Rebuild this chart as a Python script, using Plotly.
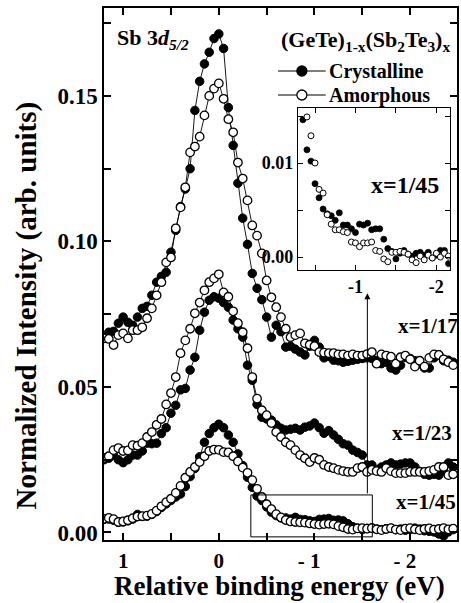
import plotly.graph_objects as go

# ---------------- data ----------------
ENERGY = [1.20, 1.15, 1.10, 1.05, 1.00, 0.95, 0.90, 0.85, 0.80, 0.75,
          0.70, 0.65, 0.60, 0.55, 0.50, 0.45, 0.40, 0.35, 0.30, 0.25,
          0.20, 0.15, 0.10, 0.05, 0.00, -0.05, -0.10, -0.15, -0.20, -0.25,
          -0.30, -0.35, -0.40, -0.45, -0.50, -0.55, -0.60, -0.65, -0.70, -0.75,
          -0.80, -0.85, -0.90, -0.95, -1.00, -1.05, -1.10, -1.15, -1.20, -1.25,
          -1.30, -1.35, -1.40, -1.45, -1.50, -1.55, -1.60, -1.65, -1.70, -1.75,
          -1.80, -1.85, -1.90, -1.95, -2.00, -2.05, -2.10, -2.15, -2.20, -2.25,
          -2.30, -2.35, -2.40, -2.45]

AMOR_1_45 = [0.0047, 0.0050, 0.0046, 0.0036, 0.0038, 0.0042, 0.0049, 0.0055, 0.0056, 0.0058,
             0.0064, 0.0075, 0.0090, 0.0104, 0.0116, 0.0136, 0.0160, 0.0188, 0.0208, 0.0225,
             0.0242, 0.0262, 0.0280, 0.0285, 0.0284, 0.0276, 0.0275, 0.0262, 0.0244, 0.0223,
             0.0205, 0.0180, 0.0150, 0.0122, 0.0097, 0.0080, 0.0063, 0.0052, 0.0043, 0.0038,
             0.0036, 0.0035, 0.0034, 0.0031, 0.0029, 0.0027, 0.0029, 0.0030, 0.0028, 0.0022,
             0.0018, 0.0012, 0.0010, 0.0014, 0.0015, 0.0013, 0.0015, 0.0011, 0.0008, 0.0012,
             0.0015, 0.0010, 0.0008, 0.0013, 0.0015, 0.0011, 0.0008, 0.0012, 0.0014, 0.0010,
             0.0012, 0.0015, 0.0011, 0.0013]
CRYS_1_45 = [0.0045, 0.0046, 0.0042, 0.0035, 0.0036, 0.0040, 0.0046, 0.0062, 0.0055, 0.0056,
             0.0062, 0.0072, 0.0086, 0.0098, 0.0110, 0.0122, 0.0132, 0.0158, 0.0192, 0.0220,
             0.0260, 0.0310, 0.0340, 0.0360, 0.0372, 0.0360, 0.0335, 0.0310, 0.0270, 0.0230,
             0.0190, 0.0155, 0.0125, 0.0110, 0.0088, 0.0070, 0.0058, 0.0050, 0.0050, 0.0046,
             0.0052, 0.0045, 0.0044, 0.0040, 0.0038, 0.0045, 0.0046, 0.0048, 0.0042, 0.0043,
             0.0040, 0.0030, 0.0020, 0.0015, 0.0010, 0.0014, 0.0016, 0.0012, 0.0010, 0.0013,
             0.0014, 0.0010, 0.0012, 0.0008, 0.0010, 0.0015, 0.0012, 0.0006, 0.0004, 0.0002,
             -0.0005, -0.0012, 0.0002, 0.0010]
AMOR_1_23 = [0.0256, 0.0262, 0.0283, 0.0290, 0.0280, 0.0282, 0.0300, 0.0298, 0.0307, 0.0328,
             0.0345, 0.0370, 0.0390, 0.0440, 0.0479, 0.0534, 0.0616, 0.0660, 0.0700, 0.0753,
             0.0790, 0.0832, 0.0860, 0.0873, 0.0887, 0.0825, 0.0810, 0.0760, 0.0719, 0.0688,
             0.0633, 0.0534, 0.0460, 0.0420, 0.0403, 0.0376, 0.0345, 0.0328, 0.0310, 0.0300,
             0.0283, 0.0266, 0.0255, 0.0242, 0.0256, 0.0250, 0.0232, 0.0225, 0.0221, 0.0215,
             0.0211, 0.0208, 0.0208, 0.0221, 0.0225, 0.0208, 0.0215, 0.0211, 0.0208, 0.0221,
             0.0211, 0.0204, 0.0204, 0.0204, 0.0208, 0.0208, 0.0208, 0.0208, 0.0211, 0.0215,
             0.0225, 0.0225, 0.0197, 0.0200]
CRYS_1_23 = [0.0250, 0.0255, 0.0265, 0.0250, 0.0240, 0.0250, 0.0266, 0.0266, 0.0280, 0.0307,
             0.0305, 0.0307, 0.0340, 0.0360, 0.0410, 0.0437, 0.0490, 0.0495, 0.0558, 0.0602,
             0.0695, 0.0757, 0.0798, 0.0810, 0.0805, 0.0790, 0.0774, 0.0730, 0.0700, 0.0671,
             0.0575, 0.0523, 0.0440, 0.0396, 0.0390, 0.0386, 0.0370, 0.0358, 0.0352, 0.0355,
             0.0358, 0.0352, 0.0362, 0.0366, 0.0376, 0.0360, 0.0341, 0.0350, 0.0335, 0.0320,
             0.0305, 0.0300, 0.0283, 0.0275, 0.0266, 0.0232, 0.0232, 0.0215, 0.0225, 0.0232,
             0.0239, 0.0232, 0.0235, 0.0239, 0.0239, 0.0225, 0.0210, 0.0200, 0.0197, 0.0200,
             0.0197, 0.0210, 0.0239, 0.0225]
AMOR_1_17 = [0.0667, 0.0665, 0.0644, 0.0678, 0.0684, 0.0667, 0.0695, 0.0695, 0.0705, 0.0736,
             0.0770, 0.0815, 0.0860, 0.0928, 0.0945, 0.1045, 0.1117, 0.1186, 0.1306, 0.1326,
             0.1360, 0.1433, 0.1500, 0.1525, 0.1543, 0.1490, 0.1420, 0.1375, 0.1271, 0.1216,
             0.1141, 0.1055, 0.1020, 0.0959, 0.0866, 0.0808, 0.0774, 0.0740, 0.0700, 0.0671,
             0.0678, 0.0684, 0.0650, 0.0645, 0.0640, 0.0620, 0.0618, 0.0616, 0.0616, 0.0612,
             0.0612, 0.0608, 0.0612, 0.0608, 0.0608, 0.0613, 0.0620, 0.0580, 0.0612, 0.0608,
             0.0604, 0.0580, 0.0602, 0.0608, 0.0595, 0.0570, 0.0590, 0.0570, 0.0600, 0.0612,
             0.0610, 0.0595, 0.0585, 0.0575]
CRYS_1_17 = [0.0670, 0.0688, 0.0691, 0.0719, 0.0740, 0.0722, 0.0712, 0.0740, 0.0770, 0.0777,
             0.0815, 0.0860, 0.0880, 0.0894, 0.0963, 0.1038, 0.1120, 0.1180, 0.1250, 0.1450,
             0.1550, 0.1610, 0.1650, 0.1697, 0.1713, 0.1663, 0.1460, 0.1330, 0.1200, 0.1080,
             0.0990, 0.0890, 0.0839, 0.0800, 0.0740, 0.0671, 0.0712, 0.0690, 0.0637, 0.0640,
             0.0630, 0.0620, 0.0610, 0.0640, 0.0660, 0.0637, 0.0600, 0.0605, 0.0592, 0.0590,
             0.0585, 0.0588, 0.0592, 0.0595, 0.0598, 0.0600, 0.0598, 0.0590, 0.0580, 0.0585,
             0.0565, 0.0558, 0.0575, 0.0602, 0.0598, 0.0590, 0.0580, 0.0565, 0.0565, 0.0600,
             0.0610, 0.0590, 0.0592, 0.0585]

INSET_E_CRYS = [-0.35, -0.40, -0.45, -0.50, -0.55, -0.60, -0.65, -0.70, -0.75, -0.80,
                -0.85, -0.90, -0.95, -1.00, -1.05, -1.10, -1.15, -1.20, -1.25, -1.30,
                -1.35, -1.40, -1.45, -1.50, -1.55, -1.60, -1.65, -1.70, -1.75, -1.80,
                -1.85, -1.90, -1.95, -2.00, -2.05, -2.10, -2.15]
INSET_CRYS = [0.0146, 0.0114, 0.0102, 0.0078, 0.0063, 0.0051, 0.0046, 0.0044, 0.0039, 0.0047,
              0.0034, 0.0034, 0.0030, 0.0026, 0.0035, 0.0034, 0.0036, 0.0029, 0.0030, 0.0030,
              0.0019, 0.0009, 0.0006, -0.0002, 0.0004, 0.0007, 0.0003, 0.0001, 0.0004, 0.0005,
              0.0002, 0.0005, -0.0001, 0.0002, 0.0007, 0.0007, -0.0007]
INSET_E_AMOR = [-0.40, -0.45, -0.50, -0.55, -0.60, -0.65, -0.70, -0.75, -0.80, -0.85,
                -0.90, -0.95, -1.00, -1.05, -1.10, -1.15, -1.20, -1.25, -1.30, -1.35,
                -1.40, -1.45, -1.50, -1.55, -1.60, -1.65, -1.70, -1.75, -1.80, -1.85,
                -1.90, -1.95, -2.00, -2.05, -2.10, -2.15]
INSET_AMOR = [0.0149, 0.0129, 0.0100, 0.0072, 0.0068, 0.0045, 0.0035, 0.0029, 0.0029, 0.0027,
              0.0026, 0.0016, 0.0015, 0.0011, 0.0015, 0.0015, 0.0016, 0.0007, 0.0006, -0.0002,
              -0.0005, 0.0005, 0.0005, 0.0006, 0.0005, 0.0003, -0.0003, -0.0006, 0.0001, -0.0003,
              0.0002, -0.0001, 0.0004, 0.0000, 0.0004, 0.0001]

X_TICKS = [1, 0, -1, -2]
X_TICKTEXT = ["1", "0", "- 1\u00a0\u00a0", "- 2\u00a0\u00a0"]
INSET_X_TICKS = [-1, -2]
INSET_X_TICKTEXT = ["-1", "-2"]

SERIES = [("1/45", CRYS_1_45, AMOR_1_45), ("1/23", CRYS_1_23, AMOR_1_23), ("1/17", CRYS_1_17, AMOR_1_17)]
LEGEND_NAMES = ["Crystalline", "Amorphous"]
LEGEND_FILL = ["black", "white"]

FONT = "Liberation Serif"

# ---------------- figure ----------------
fig = go.Figure()

for lab, crys, amor in SERIES:
    fig.add_trace(go.Scatter(
        x=ENERGY, y=crys, mode="lines+markers", name="Crystalline x=" + lab, showlegend=False,
        line=dict(color="black", width=0.9),
        marker=dict(symbol="circle", size=8.5, color="black", line=dict(color="black", width=1))))
for lab, crys, amor in SERIES:
    fig.add_trace(go.Scatter(
        x=ENERGY, y=amor, mode="lines+markers", name="Amorphous x=" + lab, showlegend=False,
        line=dict(color="black", width=0.9),
        marker=dict(symbol="circle", size=8.5, color="white", line=dict(color="black", width=1.3))))

# inset
fig.add_trace(go.Scatter(x=INSET_E_CRYS, y=INSET_CRYS, mode="markers", xaxis="x2", yaxis="y2",
                         showlegend=False, name="Crystalline (inset)",
                         marker=dict(symbol="circle", size=6, color="black", line=dict(color="black", width=0.8))))
fig.add_trace(go.Scatter(x=INSET_E_AMOR, y=INSET_AMOR, mode="markers", xaxis="x2", yaxis="y2",
                         showlegend=False, name="Amorphous (inset)",
                         marker=dict(symbol="circle", size=6, color="white", line=dict(color="black", width=1))))

axis_common = dict(showline=True, linecolor="black", mirror="ticks", showgrid=False, zeroline=False,
                   ticks="inside", tickcolor="black")

fig.update_layout(
    width=461, height=603,
    margin=dict(l=104, r=2, t=8, b=63),
    paper_bgcolor="white", plot_bgcolor="white",
    font=dict(family=FONT, size=20, color="black", weight="bold"),
    showlegend=False,
    xaxis=dict(**axis_common, range=[1.20, -2.49], linewidth=1.5, ticklen=7, tickwidth=1.5,
               tickmode="array", tickvals=X_TICKS, ticktext=X_TICKTEXT, ticklabelstandoff=1,
               minor=dict(tick0=0, dtick=0.5, ticks="inside", ticklen=7, tickwidth=1.5, tickcolor="black"),
               tickfont=dict(size=21, family=FONT, weight="bold")),
    yaxis=dict(**axis_common, range=[-0.00258, 0.1802], linewidth=1.5, ticklen=7, tickwidth=1.5,
               tick0=0, dtick=0.05, tickformat=".2f",
               minor=dict(tick0=0, dtick=0.025, ticks="inside", ticklen=7, tickwidth=1.5, tickcolor="black"),
               tickfont=dict(size=23, family=FONT, weight="bold")),
    xaxis2=dict(**axis_common, domain=[0.549, 0.980], anchor="y2", range=[-0.287, -2.168],
                linewidth=1, ticklen=5, tickwidth=1,
                tickmode="array", tickvals=INSET_X_TICKS, ticktext=INSET_X_TICKTEXT,
                minor=dict(tick0=0, dtick=0.5, ticks="inside", ticklen=5, tickwidth=1, tickcolor="black"),
                tickfont=dict(size=18, family=FONT, weight="bold")),
    yaxis2=dict(**axis_common, domain=[0.5075, 0.812], anchor="x2", range=[-0.00138, 0.01585],
                linewidth=1, ticklen=5, tickwidth=1, tick0=0, dtick=0.01, tickformat=".2f",
                minor=dict(tick0=0, dtick=0.005, ticks="inside", ticklen=5, tickwidth=1, tickcolor="black"),
                tickfont=dict(size=18, family=FONT, weight="bold")),
)

def px_x(px):
    return (px - 104) / 355

def px_y(py):
    return (540 - py) / 532

ann_font = dict(family=FONT, color="black", weight="bold")

# axis titles (as free text, placed like the original)
fig.add_annotation(xref="paper", yref="paper", x=px_x(26), y=px_y(305), xanchor="center", yanchor="middle",
                   textangle=-90, text="Normalized Intensity (arb. units)", showarrow=False,
                   font=dict(size=29, **ann_font))
fig.add_annotation(xref="paper", yref="paper", x=px_x(280), y=px_y(602), xanchor="center", yanchor="bottom",
                   text="Relative binding energy (eV)", showarrow=False, borderpad=0,
                   font=dict(size=27, **ann_font))

fig.add_annotation(xref="paper", yref="paper", x=px_x(115), y=px_y(39), xanchor="left", yanchor="middle",
                   text="Sb 3<i>d</i><sub><i>5/2</i></sub>", showarrow=False, font=dict(size=22, **ann_font))
fig.add_annotation(xref="paper", yref="paper", x=px_x(280), y=px_y(41), xanchor="left", yanchor="middle",
                   text="(GeTe)<sub>1-x</sub>(Sb<sub>2</sub>Te<sub>3</sub>)<sub>x</sub>", showarrow=False,
                   font=dict(size=22, **ann_font))

# legend (drawn by hand to match the original placement)
LEG_Y = [71, 95]
for name, fill, ly in zip(LEGEND_NAMES, LEGEND_FILL, LEG_Y):
    fig.add_shape(type="line", xref="paper", yref="paper", x0=px_x(279), x1=px_x(327),
                  y0=px_y(ly), y1=px_y(ly), line=dict(color="black", width=1))
    fig.add_shape(type="circle", xref="paper", yref="paper", xsizemode="pixel", ysizemode="pixel",
                  xanchor=px_x(303), yanchor=px_y(ly), x0=-5, x1=5, y0=-5, y1=5,
                  fillcolor=fill, line=dict(color="black", width=1.3))
    fig.add_annotation(xref="paper", yref="paper", x=px_x(328), y=px_y(ly), xanchor="left", yanchor="middle",
                       text=name, showarrow=False, font=dict(size=20, **ann_font))

fig.add_annotation(xref="paper", yref="paper", x=px_x(443), y=px_y(185), xanchor="right", yanchor="middle",
                   text="x=1/45", showarrow=False, font=dict(size=24, **ann_font))
fig.add_annotation(xref="paper", yref="paper", x=px_x(462), y=px_y(326), xanchor="right", yanchor="middle",
                   text="x=1/17", showarrow=False, font=dict(size=21, **ann_font))
fig.add_annotation(xref="paper", yref="paper", x=px_x(456), y=px_y(433), xanchor="right", yanchor="middle",
                   text="x=1/23", showarrow=False, font=dict(size=21, **ann_font))
fig.add_annotation(xref="paper", yref="paper", x=px_x(460), y=px_y(502), xanchor="right", yanchor="middle",
                   text="x=1/45", showarrow=False, font=dict(size=21, **ann_font))

# zoom box and arrow
fig.add_shape(type="rect", xref="x", yref="y", x0=-0.335, x1=-1.605, y0=-0.0015, y1=0.0129,
              line=dict(color="black", width=1))
fig.add_annotation(xref="x", yref="y", axref="x", ayref="y", x=-1.553, y=0.0822, ax=-1.553, ay=0.0129,
                   text="", showarrow=True, arrowhead=2, arrowsize=1.2, arrowwidth=1, arrowcolor="black")

fig.write_html("out.html")
